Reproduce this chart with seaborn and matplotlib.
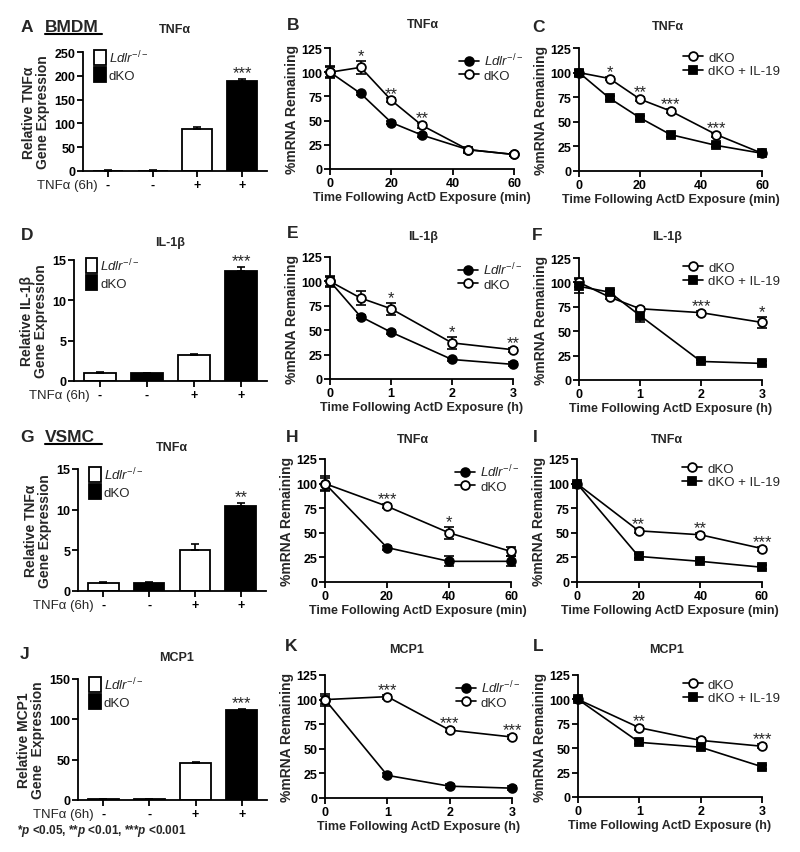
import numpy as np
import pandas as pd
import matplotlib
matplotlib.use('Agg')
import matplotlib.pyplot as plt
import seaborn as sns
from matplotlib.lines import Line2D
from matplotlib.patches import Patch

sns.set_theme(style='ticks')
plt.rcParams['font.family'] = ['Liberation Sans', 'DejaVu Sans']
plt.rcParams['mathtext.fontset'] = 'custom'
plt.rcParams['mathtext.rm'] = 'Liberation Sans'
plt.rcParams['mathtext.it'] = 'Liberation Sans:italic'
plt.rcParams['mathtext.bf'] = 'Liberation Sans:bold'
try:
    plt.rcParams['mathtext.bfit'] = 'Liberation Sans:italic:bold'
except Exception:
    pass

LDLR = r'$\mathit{Ldlr}^{\mathit{-/-}}$'

# ---------------- data ----------------
bar_groups = ['Ldlr-/-', 'dKO', 'Ldlr-/- + TNFa', 'dKO + TNFa']
bar_ticklabels = ['-', '-', '+', '+']

A_vals = [1.0, 1.0, 88, 190]
A_err = [0.5, 0.5, 4, 3]
A_stars = ['', '', '', '***']

D_vals = [1.0, 1.0, 3.2, 13.6]
D_err = [0.1, 0.05, 0.2, 0.5]
D_stars = ['', '', '', '***']

G_vals = [1.0, 1.0, 5.1, 10.5]
G_err = [0.15, 0.1, 0.7, 0.3]
G_stars = ['', '', '', '**']

J_vals = [1.0, 1.0, 46, 111]
J_err = [0.3, 0.3, 1.0, 2.0]
J_stars = ['', '', '', '***']

# TNFa BMDM (min)
B_x = [0, 10, 20, 30, 45, 60]
B_ldlr = [100, 78, 48, 35, 20, 15]
B_ldlr_err = [5, 2, 2, 2, 2, 2]
B_dko = [100, 105, 71, 45, 20, 15]
B_dko_err = [6, 7, 2, 3, 3, 2]
B_stars = ['', '*', '**', '**', '', '']

C_x = [0, 10, 20, 30, 45, 60]
C_dko = [100, 94, 73, 61, 37, 18]
C_dko_err = [3, 2, 2, 2, 2, 2]
C_il19 = [100, 74, 54, 37, 26, 18]
C_il19_err = [3, 2, 2, 2, 2, 2]
C_stars = ['', '*', '**', '***', '***', '']

# IL-1b BMDM (h)
E_x = [0, 0.5, 1, 2, 3]
E_ldlr = [100, 64, 48, 20, 15]
E_ldlr_err = [6, 2, 2, 2, 2]
E_dko = [100, 83, 72, 37, 30]
E_dko_err = [5, 7, 6, 6, 2]
E_stars = ['', '', '*', '*', '**']

F_x = [0, 0.5, 1, 2, 3]
F_dko = [100, 85, 73, 69, 59]
F_dko_err = [5, 2, 2, 2, 6]
F_il19 = [96, 90, 66, 19, 17]
F_il19_err = [7, 2, 7, 2, 2]
F_stars = ['', '', '', '***', '*']

# TNFa VSMC (min)
H_x = [0, 20, 40, 60]
H_ldlr = [100, 35, 21, 21]
H_ldlr_err = [8, 2, 5, 5]
H_dko = [100, 77, 50, 31]
H_dko_err = [6, 2, 6, 5]
H_stars = ['', '***', '*', '']

I_x = [0, 20, 40, 60]
I_dko = [100, 52, 48, 34]
I_dko_err = [2, 2, 2, 2]
I_il19 = [100, 26, 21, 15]
I_il19_err = [2, 2, 2, 2]
I_stars = ['', '**', '**', '***']

# MCP1 VSMC (h)
K_x = [0, 1, 2, 3]
K_ldlr = [100, 23, 12, 10]
K_ldlr_err = [6, 2, 2, 2]
K_dko = [100, 103, 69, 62]
K_dko_err = [4, 2, 2, 2]
K_stars = ['', '***', '***', '***']

L_x = [0, 1, 2, 3]
L_dko = [100, 71, 58, 52]
L_dko_err = [2, 2, 2, 2]
L_il19 = [100, 56, 51, 31]
L_il19_err = [2, 2, 2, 2]
L_stars = ['', '**', '', '***']

# ---------------- styling helpers ----------------
W, H = 800, 853
fig = plt.figure(figsize=(W / 100, H / 100), dpi=100)
fig.patch.set_facecolor('white')

LW = 1.3
TICK_FS = 9
LABEL_FS = 10
XLABEL_FS = 9
TITLE_FS = 9
LEG_FS = 9.5
STAR_FS = 12


def px_axes(x0, x1, y0, y1):
    return fig.add_axes([x0 / W, 1 - y1 / H, (x1 - x0) / W, (y1 - y0) / H])


def style_axes(ax):
    sns.despine(ax=ax)
    for s in ('left', 'bottom'):
        ax.spines[s].set_linewidth(LW)
        ax.spines[s].set_color('black')
    ax.tick_params(direction='out', length=4, width=LW, labelsize=TICK_FS,
                   colors='black', pad=1.5)
    ax.set_facecolor('white')
    for lab in ax.get_xticklabels() + ax.get_yticklabels():
        lab.set_fontweight('bold')


def unclip(eb):
    for a in list(eb.lines[1]) + list(eb.lines[2]):
        a.set_clip_on(False)


bar_colors = ['white', 'black', 'white', 'black']


def bar_panel(ax, vals, errs, stars, ylim, yticks, ylabel):
    df = pd.DataFrame({'group': bar_groups, 'value': vals})
    sns.barplot(data=df, x='group', y='value', hue='group', order=bar_groups,
                hue_order=bar_groups, palette=bar_colors, edgecolor='black',
                linewidth=LW, width=0.67, errorbar=None, legend=False, ax=ax)
    eb = ax.errorbar(range(len(vals)), vals, yerr=[np.zeros(len(vals)), errs],
                     fmt='none', ecolor='black', elinewidth=1.2, capsize=3,
                     capthick=1.2, zorder=3)
    unclip(eb)
    for i, (v, e, s) in enumerate(zip(vals, errs, stars)):
        if s:
            ax.annotate(s, xy=(i, v + e), xytext=(0, 1.5), textcoords='offset points',
                        ha='center', va='baseline', fontsize=STAR_FS)
    ax.set_xlim(-0.55, 3.55)
    ax.set_ylim(*ylim)
    ax.set_yticks(yticks)
    ax.set_xticks(range(4))
    ax.set_xticklabels(bar_ticklabels)
    ax.set_xlabel('')
    ax.set_ylabel(ylabel, fontsize=LABEL_FS, fontweight='bold', labelpad=3,
                  linespacing=1.0)
    style_axes(ax)
    ax.annotate('TNFα (6h)', xy=(-0.22, 0), xycoords=('data', 'axes fraction'),
                xytext=(0, -5.5), textcoords='offset points',
                ha='right', va='top', fontsize=TICK_FS + 0.5)
    handles = [Patch(facecolor='white', edgecolor='black', linewidth=LW, label=LDLR),
               Patch(facecolor='black', edgecolor='black', linewidth=LW, label='dKO')]
    ax.legend(handles=handles, loc='upper left', bbox_to_anchor=(0.06, 1.03),
              frameon=False, fontsize=LEG_FS, handlelength=0.9, handleheight=1.35,
              handletextpad=0.2, labelspacing=0.15, borderpad=0, borderaxespad=0)


STYLES = {
    'ldlr': dict(marker='o', mfc='black', label=LDLR),
    'dko': dict(marker='o', mfc='white', label='dKO'),
    'il19': dict(marker='s', mfc='black', label='dKO + IL-19'),
}


def line_panel(ax, x, series, stars, xmax, xticks, unit, leg_x):
    tops = np.full(len(x), -np.inf)
    for key, y, err in series:
        st = STYLES[key]
        sns.lineplot(x=x, y=y, ax=ax, color='black', linewidth=1.2, marker=st['marker'],
                     markersize=6.3 if st['marker'] == 'o' else 5.8,
                     markerfacecolor=st['mfc'], markeredgecolor='black',
                     markeredgewidth=1.3, errorbar=None, label=st['label'],
                     clip_on=False, zorder=4)
        eb = ax.errorbar(x, y, yerr=err, fmt='none', ecolor='black', elinewidth=1.2,
                         capsize=3.5, capthick=1.2, zorder=3)
        unclip(eb)
        tops = np.maximum(tops, np.array(y) + np.array(err))
    for xi, t, s in zip(x, tops, stars):
        if s:
            ax.annotate(s, xy=(xi, t), xytext=(0, 0.5), textcoords='offset points',
                        ha='center', va='baseline', fontsize=STAR_FS)
    ax.set_xlim(0, xmax)
    ax.set_ylim(0, 125)
    ax.set_yticks([0, 25, 50, 75, 100, 125])
    ax.set_xticks(xticks)
    ax.set_xlabel(f'Time Following ActD Exposure ({unit})', fontsize=XLABEL_FS,
                  fontweight='bold', labelpad=2)
    ax.set_ylabel('%mRNA Remaining', fontsize=LABEL_FS, fontweight='bold', labelpad=2)
    style_axes(ax)
    ax.legend(loc='upper left', bbox_to_anchor=(leg_x, 0.97), frameon=False,
              fontsize=LEG_FS, handlelength=1.5, handletextpad=0.4, labelspacing=0.1,
              borderpad=0, borderaxespad=0)


# ---------------- panels ----------------
axA = px_axes(83, 267, 53, 172)
bar_panel(axA, A_vals, A_err, A_stars, (0, 250), [0, 50, 100, 150, 200, 250],
          'Relative TNFα\nGene Expression')
axD = px_axes(74, 267, 261, 382)
bar_panel(axD, D_vals, D_err, D_stars, (0, 15), [0, 5, 10, 15],
          'Relative IL-1β\nGene Expression')
axG = px_axes(78, 266, 470, 592)
bar_panel(axG, G_vals, G_err, G_stars, (0, 15), [0, 5, 10, 15],
          'Relative TNFα\nGene Expression')
axJ = px_axes(78, 267, 680, 801)
bar_panel(axJ, J_vals, J_err, J_stars, (0, 150), [0, 50, 100, 150],
          'Relative MCP1\nGene  Expression')

axB = px_axes(330, 514, 49, 170)
line_panel(axB, B_x, [('ldlr', B_ldlr, B_ldlr_err), ('dko', B_dko, B_dko_err)],
           B_stars, 60, [0, 20, 40, 60], 'min', 0.70)
axC = px_axes(579, 762, 49, 172)
line_panel(axC, C_x, [('dko', C_dko, C_dko_err), ('il19', C_il19, C_il19_err)],
           C_stars, 60, [0, 20, 40, 60], 'min', 0.57)
axE = px_axes(330, 513, 258, 380)
line_panel(axE, E_x, [('ldlr', E_ldlr, E_ldlr_err), ('dko', E_dko, E_dko_err)],
           E_stars, 3, [0, 1, 2, 3], 'h', 0.70)
axF = px_axes(579, 762, 259, 381)
line_panel(axF, F_x, [('dko', F_dko, F_dko_err), ('il19', F_il19, F_il19_err)],
           F_stars, 3, [0, 1, 2, 3], 'h', 0.57)
axH = px_axes(325, 511, 460, 583)
line_panel(axH, H_x, [('ldlr', H_ldlr, H_ldlr_err), ('dko', H_dko, H_dko_err)],
           H_stars, 60, [0, 20, 40, 60], 'min', 0.70)
axI = px_axes(577, 762, 460, 583)
line_panel(axI, I_x, [('dko', I_dko, I_dko_err), ('il19', I_il19, I_il19_err)],
           I_stars, 60, [0, 20, 40, 60], 'min', 0.57)
axK = px_axes(325, 512, 676, 799)
line_panel(axK, K_x, [('ldlr', K_ldlr, K_ldlr_err), ('dko', K_dko, K_dko_err)],
           K_stars, 3, [0, 1, 2, 3], 'h', 0.70)
axL = px_axes(578, 762, 676, 798)
line_panel(axL, L_x, [('dko', L_dko, L_dko_err), ('il19', L_il19, L_il19_err)],
           L_stars, 3, [0, 1, 2, 3], 'h', 0.57)

# ---------------- annotations ----------------
def ftext(x, y, s, **kw):
    fig.text(x / W, 1 - y / H, s, **kw)


letters = [('A', 21, 28), ('B', 287, 25), ('C', 532, 27), ('D', 21, 236), ('E', 287, 233),
           ('F', 532, 235), ('G', 20, 438), ('H', 286, 438), ('I', 533, 438),
           ('J', 20, 655), ('K', 285, 647), ('L', 533, 647)]
for s, x, y in letters:
    ftext(x, y, s, fontsize=12.5, fontweight='bold', va='center', ha='left')

titles = [('TNFα', 175, 30), ('TNFα', 423, 25), ('TNFα', 668, 27),
          ('IL-1β', 170, 243), ('IL-1β', 423, 237), ('IL-1β', 667, 237),
          ('TNFα', 172, 448), ('TNFα', 413, 440), ('TNFα', 667, 440),
          ('MCP1', 177, 658), ('MCP1', 407, 650), ('MCP1', 667, 650)]
for s, x, y in titles:
    ftext(x, y, s, fontsize=TITLE_FS, fontweight='bold', va='center', ha='center')

for s, y in [('BMDM', 28), ('VSMC', 438)]:
    ftext(45, y, s, fontsize=12.5, fontweight='bold', va='center', ha='left')
    fig.add_artist(Line2D([45 / W, 102 / W], [1 - (y + 7) / H, 1 - (y + 7) / H],
                          color='black', linewidth=1.5))

try:
    ftext(17, 831, r'*$\mathbfit{p}$ <0.05, **$\mathbfit{p}$ <0.01, ***$\mathbfit{p}$ <0.001',
          fontsize=8.5, fontweight='bold', va='center', ha='left')
    fig.canvas.draw()
except Exception:
    fig.texts[-1].remove()
    ftext(17, 831, '*p <0.05, **p <0.01, ***p <0.001',
          fontsize=8.5, fontweight='bold', va='center', ha='left')

fig.savefig('out.png', dpi=100, facecolor='white')
